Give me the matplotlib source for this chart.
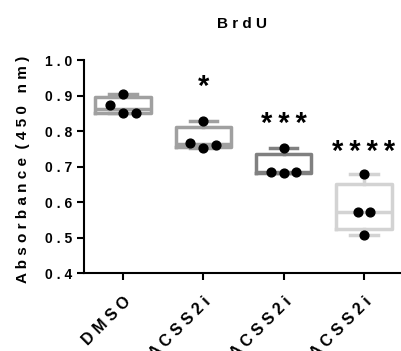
import matplotlib
matplotlib.use('Agg')
import matplotlib.pyplot as plt
import numpy as np

plt.rcParams['font.family'] = ['Liberation Sans', 'DejaVu Sans']
plt.rcParams['font.weight'] = 'bold'

groups = ['DMSO', 'ACSS2i', 'ACSS2i', 'ACSS2i']
values = [
    [0.872, 0.903, 0.850, 0.850],
    [0.767, 0.827, 0.752, 0.761],
    [0.686, 0.752, 0.681, 0.686],
    [0.573, 0.678, 0.572, 0.508],
]
stars = ['', '*', '***', '****']

# layout / style
offsets = [
    [-0.16, 0, 0, 0.16],
    [-0.16, 0, 0, 0.16],
    [-0.16, 0, 0, 0.16],
    [-0.075, 0, 0.075, 0],
]
box_colors = ['#a0a0a0', '#a0a0a0', '#808080', '#d3d3d3']
star_y = [None, 0.901, 0.798, 0.719]


def spaced(s, sep=' '):
    return sep.join(s)


fig = plt.figure(figsize=(4.01, 3.51), dpi=100)
ax = fig.add_axes([0.2095, 0.222, 0.788, 0.607])

stats = []
for v in values:
    v = np.array(v)
    q1, med, q3 = np.percentile(v, [25, 50, 75], method='weibull')
    stats.append(dict(med=med, q1=q1, q3=q3, whislo=v.min(), whishi=v.max()))

for i, s in enumerate(stats):
    c = box_colors[i]
    ax.bxp([s], positions=[i], widths=0.69, showfliers=False,
           boxprops=dict(color=c, linewidth=2.5),
           medianprops=dict(color=c, linewidth=2.5),
           whiskerprops=dict(color=c, linewidth=2.5),
           capprops=dict(color=c, linewidth=2.5),
           capwidths=0.34, manage_ticks=False)
    xs = [i + o for o in offsets[i]]
    ax.scatter(xs, values[i], s=40, color='black', zorder=5)
    if stars[i]:
        ax.text(i, star_y[i], spaced(stars[i], '\u2009'), ha='center',
                va='baseline', fontsize=21, fontweight='bold')

ax.set_xlim(-0.486, 3.45)
ax.set_ylim(0.4, 1.0)
ax.set_yticks([0.4, 0.5, 0.6, 0.7, 0.8, 0.9, 1.0])
ax.set_yticklabels([spaced(f'{t:.1f}') for t in ax.get_yticks()], fontsize=10)
ax.set_xticks(range(len(groups)))
ax.set_xticklabels([spaced(g) for g in groups], rotation=45, ha='right',
                   rotation_mode='anchor', fontsize=11.5)
ax.spines['top'].set_visible(False)
ax.spines['right'].set_visible(False)
ax.spines['left'].set_linewidth(1.5)
ax.spines['bottom'].set_linewidth(1.5)
ax.tick_params(width=1.5, length=5)
ax.tick_params(axis='x', pad=10)
ax.set_ylabel(spaced('Absorbance') + '  ' + spaced('(450 nm)'), fontsize=11,
              fontweight='bold')
ax.yaxis.set_label_coords(-0.171, 0.488)
ax.set_title(spaced('BrdU'), fontsize=11, fontweight='bold', pad=23)

fig.savefig('out.png', dpi=100)
